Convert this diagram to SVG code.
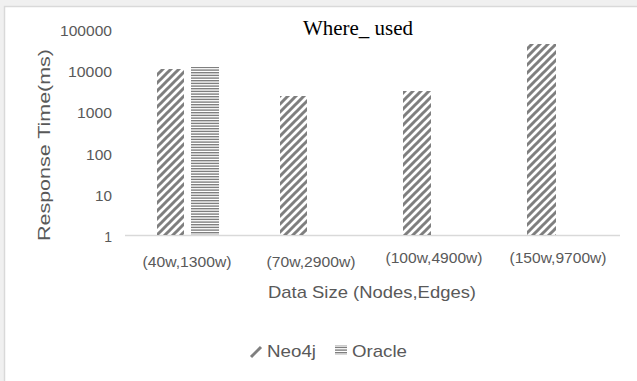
<svg xmlns="http://www.w3.org/2000/svg" width="637" height="381" viewBox="0 0 637 381">
<style>
.tick{font-family:"Liberation Sans",Arial,sans-serif;font-size:14px;fill:#595959}
.axt{font-family:"Liberation Sans",Arial,sans-serif;font-size:17px;fill:#595959}
.leg{font-family:"Liberation Sans",Arial,sans-serif;font-size:17px;fill:#595959}
.title{font-family:"Liberation Serif","Times New Roman",serif;font-size:20px;fill:#000}
</style>
<defs>
<pattern id="diag" patternUnits="userSpaceOnUse" width="8" height="8">
<path d="M-2,10 L10,-2 M-2,2 L2,-2 M6,10 L10,6" stroke="#7f7f7f" stroke-width="3"/>
</pattern>
<pattern id="horz" patternUnits="userSpaceOnUse" width="8" height="8">
<rect x="0" y="0" width="8" height="1.4" fill="#7f7f7f"/>
<rect x="0" y="2.7" width="8" height="1.4" fill="#7f7f7f"/>
<rect x="0" y="5.4" width="8" height="1.4" fill="#7f7f7f"/>
</pattern>
</defs>
<rect x="0" y="0" width="637" height="381" fill="#f0f0f0"/>
<rect x="4.5" y="6.5" width="640" height="380" fill="#fff" stroke="#d9d9d9" stroke-width="1.5"/>
<g id="title"><text class="title" x="358" y="35" text-anchor="middle" textLength="110" lengthAdjust="spacingAndGlyphs">Where_ used</text></g>
<g id="y-axis">
<text class="tick" x="112" y="36" text-anchor="end" textLength="52" lengthAdjust="spacingAndGlyphs">100000</text>
<text class="tick" x="112" y="77" text-anchor="end" textLength="44" lengthAdjust="spacingAndGlyphs">10000</text>
<text class="tick" x="112" y="118" text-anchor="end" textLength="35" lengthAdjust="spacingAndGlyphs">1000</text>
<text class="tick" x="112" y="160" text-anchor="end" textLength="26" lengthAdjust="spacingAndGlyphs">100</text>
<text class="tick" x="112" y="201" text-anchor="end" textLength="17" lengthAdjust="spacingAndGlyphs">10</text>
<text class="tick" x="112" y="242" text-anchor="end">1</text>
<text class="axt" transform="translate(50,145) rotate(-90)" text-anchor="middle" textLength="192" lengthAdjust="spacingAndGlyphs">Response Time(ms)</text>
</g>
<g id="connectors">
<line x1="125" y1="235.5" x2="620" y2="235.5" stroke="#d9d9d9" stroke-width="1.5"/>
</g>
<g id="bars">
<rect x="157" y="69" width="27" height="166" fill="url(#diag)"/>
<rect x="191" y="67" width="28" height="168" fill="url(#horz)"/>
<rect x="280" y="96" width="27" height="139" fill="url(#diag)"/>
<rect x="403" y="91" width="28" height="144" fill="url(#diag)"/>
<rect x="527" y="44" width="29" height="191" fill="url(#diag)"/>
</g>
<g id="x-axis">
<text class="tick" x="187" y="267" text-anchor="middle" textLength="89" lengthAdjust="spacingAndGlyphs">(40w,1300w)</text>
<text class="tick" x="311" y="267" text-anchor="middle" textLength="89" lengthAdjust="spacingAndGlyphs">(70w,2900w)</text>
<text class="tick" x="434" y="263" text-anchor="middle" textLength="97" lengthAdjust="spacingAndGlyphs">(100w,4900w)</text>
<text class="tick" x="558" y="263" text-anchor="middle" textLength="97" lengthAdjust="spacingAndGlyphs">(150w,9700w)</text>
<text class="axt" x="372" y="298" text-anchor="middle" textLength="208" lengthAdjust="spacingAndGlyphs">Data Size (Nodes,Edges)</text>
</g>
<g id="legend">
<path d="M251,357 L261,347" stroke="#7f7f7f" stroke-width="3"/>
<text class="leg" x="267" y="357" textLength="49" lengthAdjust="spacingAndGlyphs">Neo4j</text>
<rect x="335" y="345" width="12" height="10" fill="url(#horz)"/>
<text class="leg" x="352" y="357" textLength="55" lengthAdjust="spacingAndGlyphs">Oracle</text>
</g>
</svg>
